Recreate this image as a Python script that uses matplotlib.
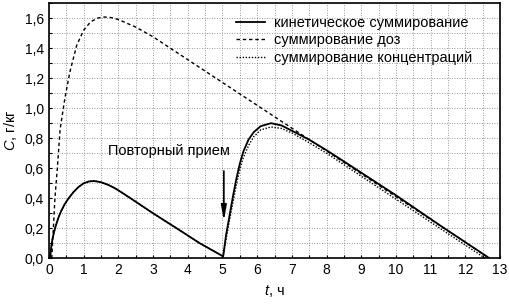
import numpy as np
import matplotlib
matplotlib.use('Agg')
import matplotlib.pyplot as plt
from matplotlib.ticker import MultipleLocator, FuncFormatter

plt.rcParams['font.family'] = ['Liberation Sans', 'DejaVu Sans']
plt.rcParams['mathtext.fontset'] = 'custom'
plt.rcParams['mathtext.it'] = 'Liberation Sans:italic'
plt.rcParams['mathtext.rm'] = 'Liberation Sans'

# kinetic summation, first dose
t_kin1 = [0.03, 0.06, 0.1, 0.15, 0.2, 0.27, 0.35, 0.45, 0.55, 0.7, 0.85, 1.0,
          1.15, 1.3, 1.5, 1.7, 1.9, 2.1, 2.33, 3.0, 3.68, 4.35, 5.02]
c_kin1 = [0.0, 0.07, 0.13, 0.18, 0.22, 0.27, 0.315, 0.36, 0.395, 0.44, 0.475,
          0.5, 0.512, 0.515, 0.507, 0.49, 0.467, 0.438, 0.403, 0.30, 0.20, 0.10,
          0.013]

# kinetic summation, after the repeated dose
t_kin2 = [5.02, 5.1, 5.2, 5.3, 5.4, 5.5, 5.6, 5.75, 5.9, 6.1, 6.4, 6.7, 7.0,
          7.5, 8.0, 8.67, 10.0, 11.3, 12.7]
c_kin2 = [0.013, 0.15, 0.28, 0.41, 0.53, 0.63, 0.71, 0.79, 0.84, 0.88, 0.9, 0.885,
          0.85, 0.79, 0.72, 0.62, 0.42, 0.215, 0.0]

# concentration summation, after the repeated dose
t_conc2 = [5.02, 5.1, 5.2, 5.3, 5.4, 5.5, 5.6, 5.75, 5.9, 6.1, 6.4, 6.7, 7.0,
           7.5, 8.0, 9.0, 10.5, 12.0, 12.58]
c_conc2 = [0.013, 0.12, 0.25, 0.37, 0.49, 0.59, 0.67, 0.75, 0.81, 0.855, 0.875,
           0.865, 0.835, 0.77, 0.70, 0.547, 0.318, 0.088, 0.0]

# dose summation
t_dose = [0.08, 0.17, 0.24, 0.32, 0.46, 0.6, 0.8, 1.0, 1.2, 1.4, 1.6, 1.8, 2.0,
          2.5, 3.0, 4.0, 5.0, 6.0, 7.0, 8.0, 9.0, 10.0, 11.0, 12.0, 12.7]
c_dose = [0.0, 0.4, 0.6, 0.86, 1.07, 1.24, 1.42, 1.52, 1.575, 1.6, 1.607, 1.603,
          1.59, 1.54, 1.475, 1.323, 1.171, 1.019, 0.867, 0.715, 0.563, 0.411,
          0.259, 0.107, 0.0]

fig = plt.figure(figsize=(5.09, 3.05), dpi=100)
ax = fig.add_axes([0.0963, 0.153, 0.886, 0.837])

ax.plot(t_kin1 + t_conc2, c_kin1 + c_conc2, color='black', lw=1.0,
        linestyle=(0, (1, 1.2)), label='суммирование концентраций', zorder=3)
ax.plot(t_dose, c_dose, color='black', lw=1.0, linestyle=(0, (2.5, 2)),
        label='суммирование доз', zorder=3)
ax.plot(t_kin1 + t_kin2, c_kin1 + c_kin2, color='black', lw=1.3,
        label='кинетическое суммирование', zorder=4)

ax.set_xlim(0, 13)
ax.set_ylim(0, 1.7)
ax.xaxis.set_major_locator(MultipleLocator(1))
ax.xaxis.set_minor_locator(MultipleLocator(0.5))
ax.yaxis.set_major_locator(MultipleLocator(0.2))
ax.yaxis.set_minor_locator(MultipleLocator(0.1))
ax.yaxis.set_major_formatter(FuncFormatter(lambda v, p: f'{v:.1f}'.replace('.', ',')))
ax.grid(True, which='both', color='#777777', linestyle=(0, (1, 2)), lw=0.6)
ax.tick_params(which='both', direction='in', labelsize=10, length=2, width=0.8)
for s in ax.spines.values():
    s.set_linewidth(1.2)

ax.annotate('', xy=(5.04, 0.23), xytext=(5.04, 0.6),
            arrowprops=dict(arrowstyle='-|>,head_length=0.9,head_width=0.16',
                            color='black', lw=1.2))
ax.text(3.47, 0.715, 'Повторный прием', ha='center', va='center', fontsize=10.5)

h, l = ax.get_legend_handles_labels()
ax.legend(h[::-1], l[::-1], loc='upper left', bbox_to_anchor=(0.395, 0.985),
          frameon=False, fontsize=10.5, handlelength=2.0, handletextpad=0.6,
          labelspacing=0.25, borderaxespad=0.2)

ax.set_xlabel('$t$, ч', fontsize=10.5, labelpad=4)
ax.set_ylabel('$C$, г/кг', fontsize=10.5, labelpad=4)

fig.savefig('out.png', dpi=100)
